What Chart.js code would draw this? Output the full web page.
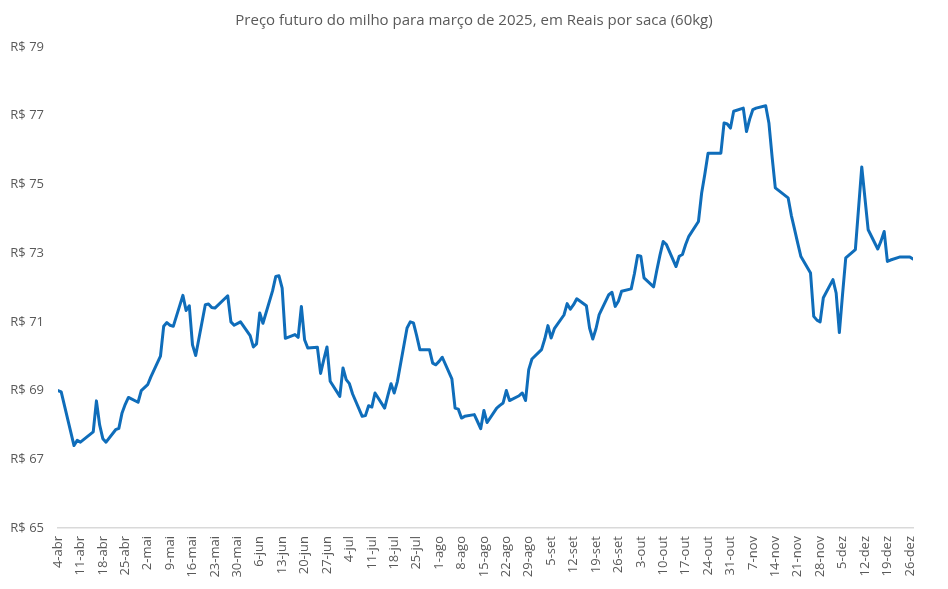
<!DOCTYPE html>
<html lang="pt-BR">
<head>
<meta charset="utf-8">
<title>Preço futuro do milho</title>
<script src="https://cdn.jsdelivr.net/npm/chart.js@4/dist/chart.umd.min.js"></script>
<style>
  html, body { margin: 0; padding: 0; background: #ffffff; }
  #wrap { width: 948px; height: 589px; position: relative; }
</style>
</head>
<body>
<div id="wrap"><canvas id="milhoChart"></canvas></div>
<script>
// Pregões (datas) e preço de ajuste
const dates = [
  '2024-04-04', '2024-04-05', '2024-04-09', '2024-04-10', '2024-04-11', '2024-04-15', '2024-04-16', '2024-04-17',
  '2024-04-18', '2024-04-19', '2024-04-22', '2024-04-23', '2024-04-24', '2024-04-25', '2024-04-26', '2024-04-29',
  '2024-04-30', '2024-05-02', '2024-05-03', '2024-05-06', '2024-05-07', '2024-05-08', '2024-05-09', '2024-05-10',
  '2024-05-13', '2024-05-14', '2024-05-15', '2024-05-16', '2024-05-17', '2024-05-20', '2024-05-21', '2024-05-22',
  '2024-05-23', '2024-05-27', '2024-05-28', '2024-05-29', '2024-05-31', '2024-06-03', '2024-06-04', '2024-06-05',
  '2024-06-06', '2024-06-07', '2024-06-10', '2024-06-11', '2024-06-12', '2024-06-13', '2024-06-14', '2024-06-17',
  '2024-06-18', '2024-06-19', '2024-06-20', '2024-06-21', '2024-06-24', '2024-06-25', '2024-06-26', '2024-06-27',
  '2024-06-28', '2024-07-01', '2024-07-02', '2024-07-03', '2024-07-04', '2024-07-05', '2024-07-08', '2024-07-09',
  '2024-07-10', '2024-07-11', '2024-07-12', '2024-07-15', '2024-07-16', '2024-07-17', '2024-07-18', '2024-07-19',
  '2024-07-22', '2024-07-23', '2024-07-24', '2024-07-25', '2024-07-26', '2024-07-29', '2024-07-30', '2024-07-31',
  '2024-08-01', '2024-08-02', '2024-08-05', '2024-08-06', '2024-08-07', '2024-08-08', '2024-08-09', '2024-08-12',
  '2024-08-13', '2024-08-14', '2024-08-15', '2024-08-16', '2024-08-19', '2024-08-20', '2024-08-21', '2024-08-22',
  '2024-08-23', '2024-08-26', '2024-08-27', '2024-08-28', '2024-08-29', '2024-08-30', '2024-09-02', '2024-09-03',
  '2024-09-04', '2024-09-05', '2024-09-06', '2024-09-09', '2024-09-10', '2024-09-11', '2024-09-12', '2024-09-13',
  '2024-09-16', '2024-09-17', '2024-09-18', '2024-09-19', '2024-09-20', '2024-09-23', '2024-09-24', '2024-09-25',
  '2024-09-26', '2024-09-27', '2024-09-30', '2024-10-01', '2024-10-02', '2024-10-03', '2024-10-04', '2024-10-07',
  '2024-10-08', '2024-10-09', '2024-10-10', '2024-10-11', '2024-10-14', '2024-10-15', '2024-10-16', '2024-10-17',
  '2024-10-18', '2024-10-21', '2024-10-22', '2024-10-23', '2024-10-24', '2024-10-25', '2024-10-28', '2024-10-29',
  '2024-10-30', '2024-10-31', '2024-11-01', '2024-11-04', '2024-11-05', '2024-11-06', '2024-11-07', '2024-11-08',
  '2024-11-11', '2024-11-12', '2024-11-13', '2024-11-14', '2024-11-18', '2024-11-19', '2024-11-20', '2024-11-21',
  '2024-11-22', '2024-11-25', '2024-11-26', '2024-11-27', '2024-11-28', '2024-11-29', '2024-12-02', '2024-12-03',
  '2024-12-04', '2024-12-05', '2024-12-06', '2024-12-09', '2024-12-11', '2024-12-13', '2024-12-16', '2024-12-17',
  '2024-12-18', '2024-12-19', '2024-12-20', '2024-12-23', '2024-12-24', '2024-12-26', '2024-12-27'
];

const prices = [
  69.00, 68.96, 67.40, 67.55, 67.50, 67.80, 68.70, 68.00,
  67.60, 67.50, 67.86, 67.90, 68.35, 68.60, 68.80, 68.66,
  69.00, 69.17, 69.40, 70.00, 70.87, 70.98, 70.90, 70.87,
  71.77, 71.33, 71.47, 70.33, 70.02, 71.50, 71.52, 71.42,
  71.40, 71.76, 71.00, 70.90, 71.00, 70.60, 70.27, 70.36,
  71.26, 70.96, 71.90, 72.32, 72.34, 71.98, 70.52, 70.63,
  70.55, 71.45, 70.48, 70.24, 70.26, 69.50, 69.90, 70.27,
  69.27, 68.83, 69.66, 69.32, 69.20, 68.90, 68.25, 68.27,
  68.56, 68.52, 68.93, 68.49, 68.85, 69.20, 68.93, 69.27,
  70.82, 71.00, 70.97, 70.60, 70.19, 70.19, 69.80, 69.75,
  69.85, 69.97, 69.34, 68.49, 68.46, 68.20, 68.25, 68.30,
  68.10, 67.89, 68.42, 68.07, 68.49, 68.57, 68.64, 69.00,
  68.71, 68.85, 68.93, 68.71, 69.61, 69.92, 70.19, 70.50,
  70.89, 70.53, 70.80, 71.20, 71.53, 71.37, 71.50, 71.67,
  71.47, 70.82, 70.50, 70.80, 71.21, 71.79, 71.86, 71.45,
  71.60, 71.89, 71.96, 72.40, 72.93, 72.91, 72.28, 72.02,
  72.50, 72.95, 73.34, 73.25, 72.61, 72.91, 72.96, 73.25,
  73.49, 73.92, 74.75, 75.30, 75.91, 75.91, 75.91, 76.79,
  76.76, 76.64, 77.13, 77.22, 76.54, 76.90, 77.18, 77.22,
  77.29, 76.79, 75.80, 74.90, 74.61, 74.10, 73.70, 73.29,
  72.90, 72.42, 71.16, 71.05, 71.00, 71.70, 72.23, 71.84,
  70.69, 71.80, 72.86, 73.10, 75.51, 73.68, 73.12, 73.35,
  73.63, 72.76, 72.80, 72.89, 72.89, 72.89, 72.83
];

// Eixo X: um rótulo por semana, de 4-abr até 26-dez
const startDate = '2024-04-04';
const endDate = '2024-12-27';
const tickEveryDays = 7;
const monthNames = ['jan', 'fev', 'mar', 'abr', 'mai', 'jun', 'jul', 'ago', 'set', 'out', 'nov', 'dez'];

// Eixo Y
const yMin = 65;
const yMax = 79;
const yStep = 2;

const DAY_MS = 24 * 60 * 60 * 1000;

function toUtc(iso) {
  const [y, m, d] = iso.split('-').map(Number);
  return Date.UTC(y, m - 1, d);
}

function dayOffset(iso) {
  return Math.round((toUtc(iso) - toUtc(startDate)) / DAY_MS);
}

function dayLabel(offset) {
  const d = new Date(toUtc(startDate) + offset * DAY_MS);
  return `${d.getUTCDate()}-${monthNames[d.getUTCMonth()]}`;
}

const points = dates.map((d, i) => ({ x: dayOffset(d), y: prices[i] }));
const lastDay = dayOffset(endDate);

const textColor = '#595959';
const fontFamily = "'Open Sans', 'Liberation Sans', sans-serif";

new Chart(document.getElementById('milhoChart'), {
  type: 'line',
  data: {
    datasets: [{
      label: 'Preço futuro do milho',
      data: points,
      borderColor: '#0F6DBA',
      backgroundColor: '#0F6DBA',
      borderWidth: 3,
      borderJoinStyle: 'round',
      borderCapStyle: 'round',
      pointRadius: 0,
      tension: 0,
      fill: false
    }]
  },
  options: {
    responsive: true,
    maintainAspectRatio: false,
    animation: false,
    layout: {
      padding: { top: 0, right: 0, bottom: 3, left: 0 }
    },
    plugins: {
      legend: { display: false },
      tooltip: { enabled: false },
      title: {
        display: true,
        text: 'Preço futuro do milho para março de 2025, em Reais por saca (60kg)',
        color: textColor,
        font: { family: fontFamily, size: 15, weight: 'normal' },
        padding: { top: 12, bottom: 17 }
      }
    },
    scales: {
      x: {
        type: 'linear',
        min: 0,
        max: lastDay,
        afterBuildTicks: (scale) => {
          // one tick per week, so 26-dez is kept even though the axis ends on 27-dez
          const ticks = [];
          for (let v = 0; v <= lastDay; v += tickEveryDays) ticks.push({ value: v });
          scale.ticks = ticks;
        },
        afterFit: (scale) => { scale.height = 58; },
        grid: { display: false, drawTicks: false },
        border: { display: true, color: '#D9D9D9', width: 1.5 },
        ticks: {
          autoSkip: false,
          minRotation: 90,
          maxRotation: 90,
          padding: 8,
          color: textColor,
          font: { family: fontFamily, size: 13 },
          callback: (value) => dayLabel(value)
        }
      },
      y: {
        min: yMin,
        max: yMax,
        afterFit: (scale) => { scale.width = 58; },
        grid: { display: false, drawTicks: false },
        border: { display: false },
        ticks: {
          stepSize: yStep,
          padding: 14,
          color: textColor,
          font: { family: fontFamily, size: 13 },
          callback: (value) => `R$ ${value}`
        }
      },
      // empty right-hand margin so the title stays centred on the page
      margin: {
        position: 'right',
        afterFit: (scale) => { scale.width = 35; },
        grid: { display: false, drawTicks: false },
        border: { display: false },
        ticks: { display: false }
      }
    }
  }
});
</script>
</body>
</html>
